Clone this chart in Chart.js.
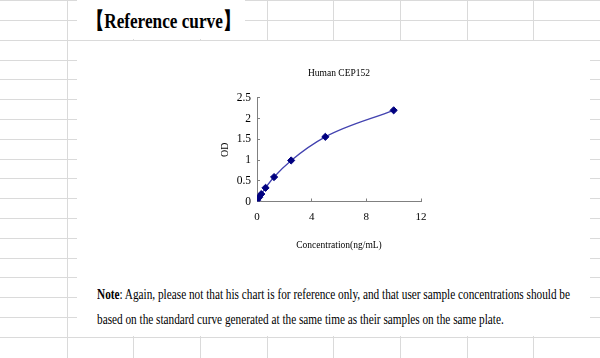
<!DOCTYPE html>
<html><head><meta charset="utf-8">
<script src="https://cdn.jsdelivr.net/npm/chart.js@4/dist/chart.umd.min.js"></script>
<style>
html,body{margin:0;padding:0;background:#fff;}
#wrap{position:relative;width:600px;height:358px;overflow:hidden;background:#fff;}
.gl{position:absolute;background:#dadada;}
#sheet{position:absolute;left:77px;top:41px;width:513px;height:295px;background:#fff;}
#tbox{position:absolute;left:77px;top:0;width:168px;height:39px;background:#fff;}
#ttl{position:absolute;left:87px;top:7px;font:bold 22px 'Liberation Serif',serif;white-space:nowrap;transform-origin:0 50%;line-height:27px;color:#000;}
#note{position:absolute;left:97px;top:283px;font:14px 'Liberation Serif',serif;line-height:24.5px;white-space:nowrap;transform-origin:0 0;color:#000;}
#note div{white-space:nowrap;}
canvas{position:absolute;left:0;top:0;}
</style>
</head>
<body>
<div id="wrap">
  <div id="grid"></div>
  <div id="sheet"></div>
  <div id="tbox"></div>
  <div id="ttl">【Reference curve】</div>
  <div id="note"><div id="l1"><b>Note</b>: Again, please not that his chart is for reference only, and that user sample concentrations should be</div><div id="l2">based on the standard curve generated at the same time as their samples on the same plate.</div></div>
  <canvas id="c" width="600" height="358"></canvas>
</div>
<script>
// ---- data ----
const concentrations = [0, 0.156, 0.3125, 0.625, 1.25, 2.5, 5, 10];
const odValues = [0.03, 0.1, 0.18, 0.33, 0.59, 0.99, 1.56, 2.2];
const xTicks = [0, 4, 8, 12];
const yTicks = [0, 0.5, 1, 1.5, 2, 2.5];
const chartTitle = 'Human CEP152';
const xTitle = 'Concentration(ng/mL)';
const yTitle = 'OD';

// ---- spreadsheet background ----
const grid = document.getElementById('grid');
function addLine(x, y, w, h) {
  const d = document.createElement('div');
  d.className = 'gl';
  d.style.left = x + 'px'; d.style.top = y + 'px';
  d.style.width = w + 'px'; d.style.height = h + 'px';
  grid.appendChild(d);
}
for (let k = 1; k <= 8; k++) addLine(Math.round(66.67 * k), 0, 1, 358);
addLine(0, 0, 600, 1);
for (let k = 0; k <= 16; k++) addLine(0, Math.round(20 + 19.8 * k), 600, 1);

// ---- fit text widths ----
(function () {
  const t = document.getElementById('ttl');
  t.style.transform = 'scaleX(' + (153 / t.getBoundingClientRect().width) + ')';
})();
(function () {
  const note = document.getElementById('note');
  const l1 = document.getElementById('l1');
  const span = document.createElement('span');
  span.innerHTML = l1.innerHTML;
  span.style.whiteSpace = 'nowrap';
  l1.innerHTML = ''; l1.appendChild(span);
  const w = span.getBoundingClientRect().width;
  note.style.transform = 'scaleX(' + (473 / w) + ')';
})();

// ---- chart ----
const serif = "'Liberation Serif','Times New Roman',serif";
new Chart(document.getElementById('c'), {
  type: 'scatter',
  data: {
    datasets: [{
      data: concentrations.map((x, i) => ({ x: x, y: odValues[i] })),
      showLine: true,
      borderColor: '#4343b0',
      borderWidth: 1.3,
      cubicInterpolationMode: 'monotone',
      pointStyle: 'rectRot',
      pointRadius: 3.6,
      pointBackgroundColor: '#000080',
      pointBorderColor: '#000080',
      pointBorderWidth: 1
    }]
  },
  options: {
    responsive: false,
    animation: false,
    devicePixelRatio: 1,
    layout: { padding: { left: 215, right: 179, top: 67.5, bottom: 100 } },
    plugins: {
      legend: { display: false },
      tooltip: { enabled: false },
      title: {
        display: true, text: chartTitle, fullSize: false,
        color: '#000', font: { family: serif, size: 9.5, weight: 'normal', lineHeight: 1.2 },
        padding: { top: 0, bottom: 19 }
      }
    },
    scales: {
      x: {
        type: 'linear', min: 0, max: 12,
        afterBuildTicks: s => { s.ticks = xTicks.map(v => ({ value: v })); },
        afterFit: s => { s.height = 56.5; },
        border: { display: true, color: '#808080', width: 1 },
        grid: { display: true, drawOnChartArea: false, drawTicks: true, tickLength: -3, color: '#808080' },
        ticks: { color: '#000', font: { family: serif, size: 11 }, padding: 12, maxRotation: 0, callback: v => String(v) },
        title: { display: true, text: xTitle, color: '#000', font: { family: serif, size: 9.5 }, padding: { top: 0, bottom: 7 } }
      },
      y: {
        type: 'linear', min: 0, max: 2.5,
        afterBuildTicks: s => { s.ticks = yTicks.map(v => ({ value: v })); },
        afterFit: s => { s.width = 42; },
        border: { display: true, color: '#808080', width: 1 },
        grid: { display: true, drawOnChartArea: false, drawTicks: true, tickLength: -3, color: '#808080' },
        ticks: { color: '#000', font: { family: serif, size: 11.5 }, padding: 9, callback: v => String(v) },
        title: { display: true, text: yTitle, color: '#000', font: { family: serif, size: 10 }, padding: { top: 4, bottom: 0 } }
      }
    }
  }
});
</script>
</body></html>
